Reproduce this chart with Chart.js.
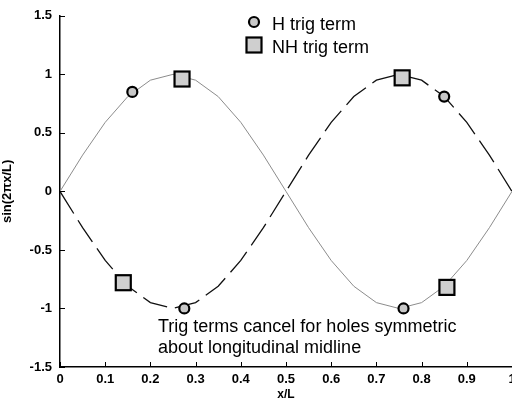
<!DOCTYPE html>
<html>
<head>
<meta charset="utf-8">
<script src="https://cdn.jsdelivr.net/npm/chart.js@4.4.0/dist/chart.umd.min.js"></script>
<style>
  html, body { margin: 0; padding: 0; background: #fff; }
  #wrap { width: 512px; height: 402px; }
</style>
</head>
<body>
<div id="wrap"><canvas id="canvas" width="512" height="402"></canvas></div>
<script>
// x positions along the plate (x/L), sampled every 0.05
const xPos = [0, 0.05, 0.1, 0.15, 0.2, 0.25, 0.3, 0.35, 0.4, 0.45, 0.5,
              0.55, 0.6, 0.65, 0.7, 0.75, 0.8, 0.85, 0.9, 0.95, 1];
// gray curve (rises first) and black dashed curve (falls first)
const grayCurve = [0, 0.31, 0.59, 0.81, 0.95, 1, 0.95, 0.81, 0.59, 0.31, 0,
                   -0.31, -0.59, -0.81, -0.95, -1, -0.95, -0.81, -0.59, -0.31, 0];
const blackCurve = [0, -0.31, -0.59, -0.81, -0.95, -1, -0.95, -0.81, -0.59, -0.31, 0,
                    0.31, 0.59, 0.81, 0.95, 1, 0.95, 0.81, 0.59, 0.31, 0];

// hole markers
const hX = [0.16, 0.275, 0.76, 0.85];
const hY = [0.85, -1.0, -1.0, 0.81];
const nhX = [0.14, 0.27, 0.757, 0.856];
const nhY = [-0.78, 0.96, 0.97, -0.82];

const xTicks = [0, 0.1, 0.2, 0.3, 0.4, 0.5, 0.6, 0.7, 0.8, 0.9, 1];
const yTicks = [-1.5, -1, -0.5, 0, 0.5, 1, 1.5];

const legendLabels = ['H trig term', 'NH trig term'];
const noteLines = ['Trig terms cancel for holes symmetric', 'about longitudinal midline'];

const FONT = '"Liberation Sans", Arial, sans-serif';

function pts(xs, ys) {
    return xs.map(function (x, i) { return {x: x, y: ys[i]}; });
}

function drawCircle(ctx, x, y) {
    ctx.beginPath();
    ctx.arc(x, y, 5, 0, Math.PI * 2);
    ctx.fillStyle = '#c8c8c8';
    ctx.fill();
    ctx.lineWidth = 2.2;
    ctx.strokeStyle = '#000';
    ctx.stroke();
}

function drawSquare(ctx, x, y) {
    ctx.fillStyle = '#cfcfcf';
    ctx.fillRect(x - 7.5, y - 7.5, 15, 15);
    ctx.lineWidth = 2.2;
    ctx.strokeStyle = '#000';
    ctx.strokeRect(x - 7.5, y - 7.5, 15, 15);
}

const extras = {
    id: 'extras',
    afterDraw: function (chart) {
        const ctx = chart.ctx;
        const xs = chart.scales.x, ys = chart.scales.y;
        const area = chart.chartArea;
        ctx.save();
        // inward ticks
        ctx.strokeStyle = '#000';
        ctx.lineWidth = 1;
        xTicks.forEach(function (t) {
            const px = Math.round(xs.getPixelForValue(t)) + 0.5;
            ctx.beginPath();
            ctx.moveTo(px, area.bottom);
            ctx.lineTo(px, area.bottom - 5);
            ctx.stroke();
        });
        yTicks.forEach(function (t) {
            const py = Math.round(ys.getPixelForValue(t)) + 0.5;
            ctx.beginPath();
            ctx.moveTo(area.left, py);
            ctx.lineTo(area.left + 5, py);
            ctx.stroke();
        });
        // markers
        hX.forEach(function (x, i) {
            drawCircle(ctx, xs.getPixelForValue(x), ys.getPixelForValue(hY[i]));
        });
        nhX.forEach(function (x, i) {
            drawSquare(ctx, xs.getPixelForValue(x), ys.getPixelForValue(nhY[i]));
        });
        // legend
        drawCircle(ctx, 254, 22);
        drawSquare(ctx, 254, 45);
        ctx.fillStyle = '#000';
        ctx.font = '18px ' + FONT;
        ctx.textBaseline = 'middle';
        ctx.textAlign = 'left';
        ctx.fillText(legendLabels[0], 272, 25);
        ctx.fillText(legendLabels[1], 272, 48);
        // note
        ctx.fillText(noteLines[0], 158, 327);
        ctx.fillText(noteLines[1], 158, 348);
        ctx.restore();
    }
};

const ctx = document.getElementById('canvas').getContext('2d');
const chart = new Chart(ctx, {
    type: 'line',
    data: {
        datasets: [{
            label: 'gray',
            data: pts(xPos, grayCurve),
            borderColor: '#8c8c8c',
            borderWidth: 1,
            pointRadius: 0,
            tension: 0
        }, {
            label: 'black',
            data: pts(xPos, blackCurve),
            borderColor: '#111',
            borderWidth: 1.3,
            borderDash: [26, 8],
            pointRadius: 0,
            tension: 0
        }]
    },
    plugins: [extras],
    options: {
        responsive: false,
        animation: false,
        layout: { padding: { top: 15, right: 0, left: 0, bottom: 0 } },
        plugins: { legend: { display: false }, tooltip: { enabled: false } },
        scales: {
            x: {
                type: 'linear',
                min: 0, max: 1,
                afterFit: function (s) { s.height = 35; s.paddingRight = 0; s.paddingLeft = 0; },
                afterBuildTicks: function (s) { s.ticks = xTicks.map(function (v) { return {value: v}; }); },
                grid: { drawOnChartArea: false, drawTicks: false },
                border: { color: '#000', width: 1.5 },
                ticks: {
                    padding: 5,
                    color: '#000',
                    font: { family: FONT, size: 13, weight: 'bold' },
                    maxRotation: 0,
                    callback: function (v) { return String(v); }
                },
                title: {
                    display: true, text: 'x/L', color: '#000',
                    padding: { top: 0, bottom: 0 },
                    font: { family: FONT, size: 12, weight: 'bold' }
                }
            },
            y: {
                type: 'linear',
                min: -1.5, max: 1.5,
                afterFit: function (s) { s.width = 60; },
                afterBuildTicks: function (s) { s.ticks = yTicks.map(function (v) { return {value: v}; }); },
                grid: { drawOnChartArea: false, drawTicks: false },
                border: { color: '#000', width: 1.5 },
                ticks: {
                    padding: 8,
                    color: '#000',
                    font: { family: FONT, size: 13, weight: 'bold' },
                    callback: function (v) { return String(v); }
                },
                title: {
                    display: true, text: 'sin(2πx/L)', color: '#000',
                    padding: { top: 0, bottom: 2 },
                    font: { family: FONT, size: 13, weight: 'bold' }
                }
            }
        }
    }
});
</script>
</body>
</html>
